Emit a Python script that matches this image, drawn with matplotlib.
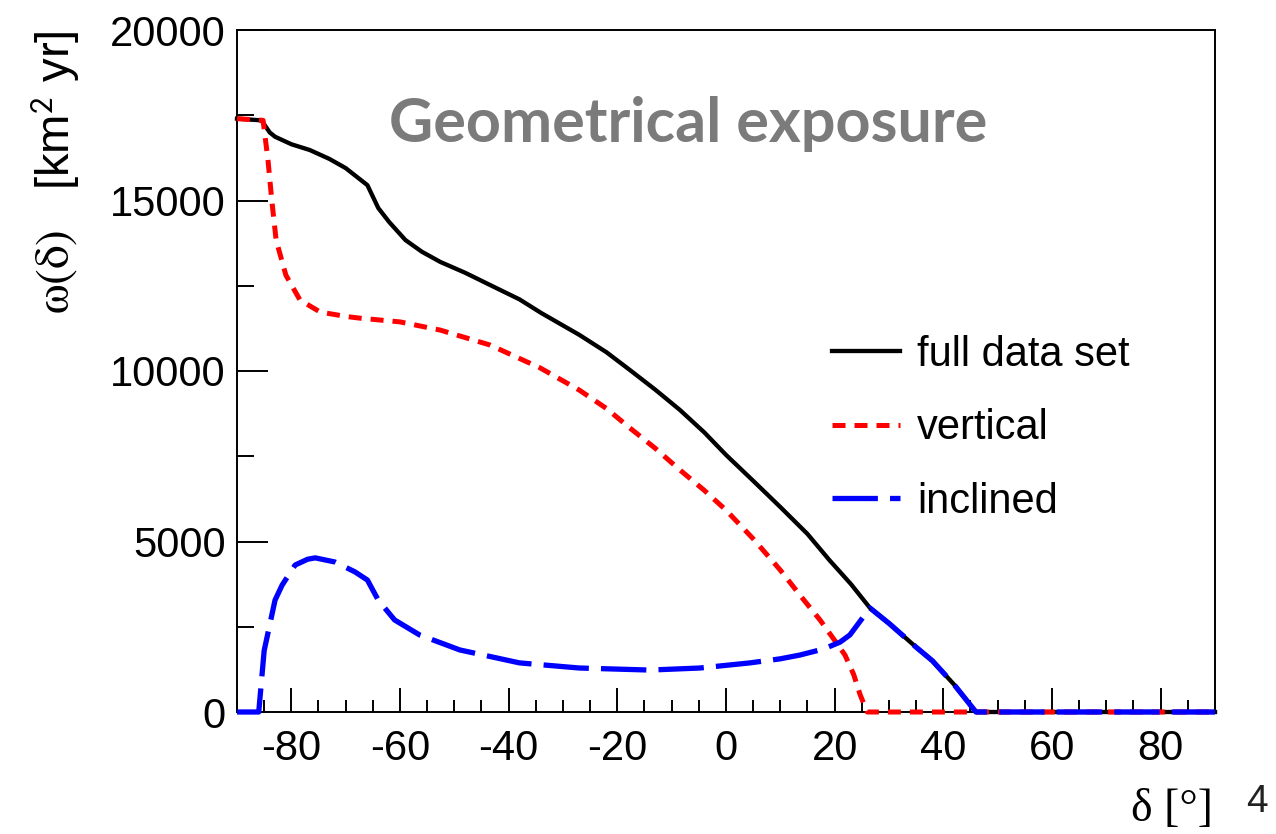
import numpy as np
from matplotlib import pyplot as plt
from matplotlib.ticker import MultipleLocator

plt.rcParams["font.family"] = ["Liberation Sans", "DejaVu Sans"]
plt.rcParams["axes.unicode_minus"] = False
plt.rcParams["mathtext.fontset"] = "stix"

# declination [deg] and exposure [km^2 yr]
full_dec = [-90, -85.5, -84, -83, -80, -76.6, -73, -70, -66, -64, -62, -59, -56, -52.6,
            -48, -43.4, -38, -34, -27, -22, -17.7, -13, -8.5, -4, 0, 5, 10, 15, 19, 23,
            26.5, 30, 35, 38, 42, 46, 50, 60, 70, 80, 90]
full_exp = [17400, 17350, 17000, 16870, 16650, 16480, 16220, 15950, 15450, 14780, 14370,
            13840, 13500, 13200, 12880, 12520, 12100, 11700, 11060, 10550, 10030, 9450,
            8860, 8200, 7540, 6780, 6010, 5220, 4460, 3750, 3050, 2600, 1900, 1500, 800,
            0, 0, 0, 0, 0, 0]

vert_dec = [-90, -85.2, -84.3, -83.6, -82.8, -81, -78.4, -74.7, -70, -67.4, -60, -52.6,
            -43.4, -34.2, -27, -22, -17.7, -13, -8.5, -4, 0, 5, 10, 14, 17.3, 20, 21.9,
            23.5, 24.7, 26, 30, 40, 50, 60, 70, 80, 90]
vert_exp = [17400, 17350, 16190, 15010, 13840, 12810, 12080, 11730, 11600, 11550, 11440,
            11200, 10760, 10090, 9440, 8900, 8330, 7730, 7100, 6500, 5920, 5080, 4160,
            3350, 2700, 2100, 1670, 1100, 500, 0, 0, 0, 0, 0, 0, 0, 0]

incl_dec = [-90, -86, -85, -83, -81.7, -79.3, -77, -75.6, -72, -68.3, -66, -64, -61,
            -56.4, -49, -38, -27, -14, -4.8, 4.4, 10, 13.6, 18, 21, 22.8, 26.5, 30, 35, 38,
            42, 46, 50, 60, 70, 80, 90]
incl_exp = [0, 0, 1800, 3280, 3720, 4310, 4480, 4520, 4400, 4110, 3870, 3280, 2700, 2260,
            1820, 1440, 1290, 1230, 1290, 1440, 1560, 1670, 1850, 2050, 2260, 3050, 2600,
            1900, 1500, 800, 0, 0, 0, 0, 0, 0]

labels = ["full data set", "vertical", "inclined"]

fig = plt.figure(figsize=(12.76, 8.34), dpi=100)
ax = fig.add_axes([237 / 1276, 1 - 712 / 834, (1215 - 237) / 1276, (712 - 30) / 834])

ax.plot(full_dec, full_exp, color="black", lw=3.1, label=labels[0], zorder=3,
        clip_on=False)
ax.plot(vert_dec, vert_exp, color="#ff0000", lw=3.6, linestyle=(0, (2.6, 1.8)),
        label=labels[1], zorder=4, clip_on=False)
ax.plot(incl_dec, incl_exp, color="#0000ff", lw=3.8, linestyle=(0, (8.6, 2.3)),
        label=labels[2], zorder=5, clip_on=False)

ax.set_xlim(-90, 90)
ax.set_ylim(0, 20000)
ax.xaxis.set_major_locator(MultipleLocator(20))
ax.xaxis.set_minor_locator(MultipleLocator(5))
ax.yaxis.set_major_locator(MultipleLocator(5000))
ax.yaxis.set_minor_locator(MultipleLocator(2500))
ax.tick_params(which="both", direction="in", width=1.4, labelsize=30)
ax.tick_params(axis="x", which="major", length=17, pad=12)
ax.tick_params(axis="x", which="minor", length=9)
ax.tick_params(axis="y", which="major", length=22, pad=8)
ax.tick_params(axis="y", which="minor", length=12)
for s in ax.spines.values():
    s.set_linewidth(1.4)

ax.text(0.461, 0.862, "Geometrical exposure", transform=ax.transAxes, ha="center",
        va="center", fontsize=44, fontweight="bold", color="#7b7b7b", family=["Lato"])

ax.legend(loc="upper left", bbox_to_anchor=(0.608, 0.553), frameon=False, fontsize=30,
          handlelength=1.65, handletextpad=0.4, labelspacing=0.8, borderpad=0,
          borderaxespad=0)

fig.text(55 / 1276, 1 - 30 / 834,
         r"$\mathrm{\omega}(\mathrm{\delta})$   [km$^{\mathsf{2}}$ yr]",
         rotation=90, ha="center", va="top", fontsize=34)
fig.text(1213 / 1276, 1 - 810 / 834, "δ [°]", ha="right", va="center",
         fontsize=33, family=["Liberation Serif"])
fig.text(1268 / 1276, 1 - 802 / 834, "4", ha="right", va="center", fontsize=28,
         color="#222222")

plt.savefig("out.png", dpi=100)
